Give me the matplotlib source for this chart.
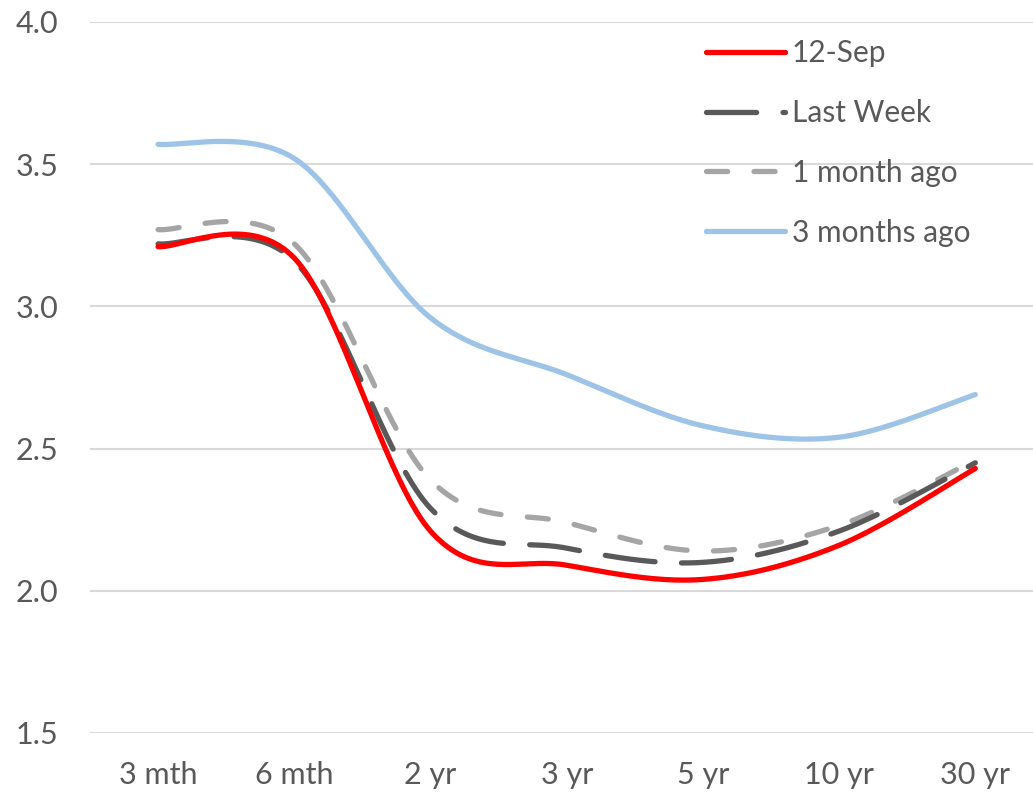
import numpy as np
import matplotlib.pyplot as plt

# yield curve snapshots (%), by maturity
tenors = ["3 mth", "6 mth", "2 yr", "3 yr", "5 yr", "10 yr", "30 yr"]
sep12 = [3.21, 3.17, 2.21, 2.09, 2.04, 2.16, 2.43]
last_week = [3.22, 3.16, 2.29, 2.15, 2.10, 2.21, 2.45]
month_ago = [3.27, 3.22, 2.39, 2.24, 2.14, 2.23, 2.46]
three_months_ago = [3.57, 3.52, 2.96, 2.76, 2.58, 2.54, 2.69]


def smooth(values, steps=40):
    # cubic bezier through each point, spreadsheet-style smoothed line
    pts = np.column_stack([np.arange(len(values)), values]).astype(float)
    pad = np.vstack([pts[0], pts, pts[-1]])
    t = np.linspace(0, 1, steps)[:, None]
    out = []
    for i in range(len(pts) - 1):
        p0, p3 = pts[i], pts[i + 1]
        p1 = p0 + (pad[i + 2] - pad[i]) / 6
        p2 = p3 - (pad[i + 3] - pad[i + 1]) / 6
        seg = ((1 - t) ** 3) * p0 + 3 * ((1 - t) ** 2) * t * p1 \
            + 3 * (1 - t) * t ** 2 * p2 + t ** 3 * p3
        out.append(seg if i == 0 else seg[1:])
    out = np.vstack(out)
    return out[:, 0], out[:, 1]


plt.rcParams['font.family'] = ['Lato', 'DejaVu Sans']
txt = '#595959'

fig = plt.figure(figsize=(10.33, 7.99), dpi=100)
W, H = 1033, 799
ax = fig.add_axes([90 / W, 1 - 733 / H, (W - 90) / W, (733 - 22) / H])

lw = 3.8
series = [
    (sep12, '12-Sep', dict(color='#FF0000')),
    (last_week, 'Last Week', dict(color='#595959', dashes=(9.5, 5.0))),
    (month_ago, '1 month ago', dict(color='#A5A5A5', dashes=(4.0, 5.0))),
    (three_months_ago, '3 months ago', dict(color='#9DC3E6')),
]
# draw order: oldest at the back
for vals, name, style in reversed(series):
    xs, ys = smooth(vals)
    ax.plot(xs, ys, lw=lw, solid_capstyle='round', dash_capstyle='round',
            label=name, **style)

ax.set_ylim(1.5, 4.0)
ax.set_yticks(np.arange(1.5, 4.01, 0.5))
ax.set_yticklabels([f"{v:.1f}" for v in np.arange(1.5, 4.01, 0.5)])
ax.set_xlim(-0.5, -0.5 + (W - 90) / 136.2)
ax.set_xticks(range(len(tenors)))
ax.set_xticklabels(tenors)
ax.grid(axis='y', color='#D9D9D9', lw=1.5)
ax.set_axisbelow(True)
for s in ax.spines.values():
    s.set_visible(False)
ax.tick_params(length=0, labelsize=22, colors=txt)
ax.tick_params(axis='y', pad=23)
ax.tick_params(axis='x', pad=20)

handles, labels = ax.get_legend_handles_labels()
order = [3, 2, 1, 0]
leg = ax.legend([handles[i] for i in order], [labels[i] for i in order],
                loc='upper left', bbox_to_anchor=(706 / W, 1 - 39 / H),
                bbox_transform=fig.transFigure, frameon=False, fontsize=21.5,
                handlelength=2.65, handletextpad=0.22, labelspacing=1.07,
                borderpad=0, borderaxespad=0)
for t in leg.get_texts():
    t.set_color(txt)

fig.savefig('out.png', dpi=100)
